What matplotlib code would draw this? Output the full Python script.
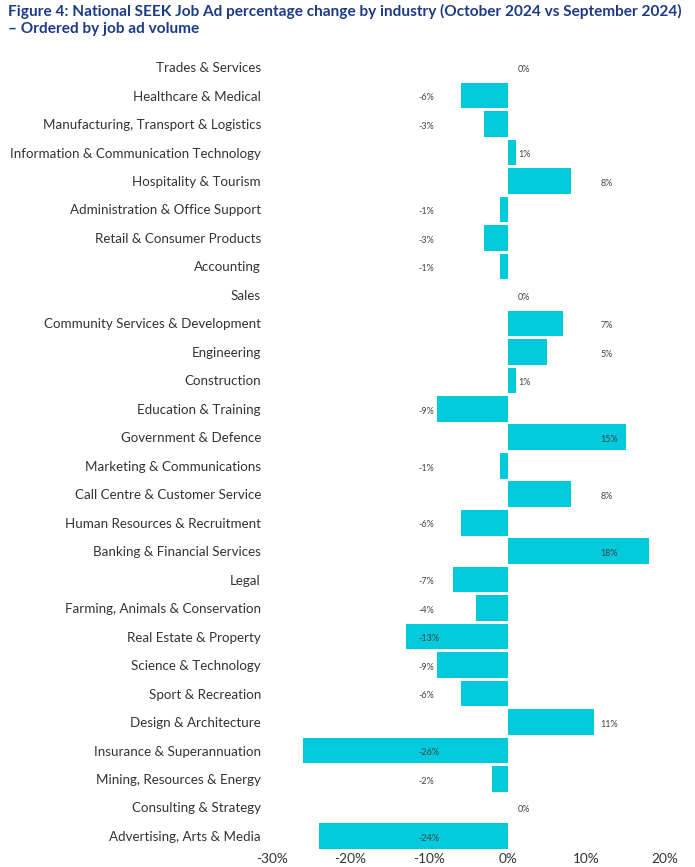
import matplotlib.pyplot as plt
from matplotlib.ticker import FuncFormatter

plt.rcParams['font.family'] = ['Lato', 'DejaVu Sans']

industries = [
    "Trades & Services", "Healthcare & Medical", "Manufacturing, Transport & Logistics",
    "Information & Communication Technology", "Hospitality & Tourism",
    "Administration & Office Support", "Retail & Consumer Products", "Accounting", "Sales",
    "Community Services & Development", "Engineering", "Construction",
    "Education & Training", "Government & Defence", "Marketing & Communications",
    "Call Centre & Customer Service", "Human Resources & Recruitment",
    "Banking & Financial Services", "Legal", "Farming, Animals & Conservation",
    "Real Estate & Property", "Science & Technology", "Sport & Recreation",
    "Design & Architecture", "Insurance & Superannuation",
    "Mining, Resources & Energy", "Consulting & Strategy", "Advertising, Arts & Media",
]
pct_change = [0, -6, -3, 1, 8, -1, -3, -1, 0, 7, 5, 1, -9, 15, -1, 8, -6, 18,
              -7, -4, -13, -9, -6, 11, -26, -2, 0, -24]
x_ticks = [-30, -20, -10, 0, 10, 20]

bar_color = "#00cadc"
title_color = "#1c3a87"

fig = plt.figure(figsize=(6.95, 8.67), dpi=100)
ax = fig.add_axes([0.3914, 0.0194, 0.5654, 0.9196])

y = list(range(len(industries)))
ax.barh(y, pct_change, height=0.9, color=bar_color)

# value labels: fixed columns like the original
for yi, v in zip(y, pct_change):
    if v < 0:
        xpos = -11.4
    elif v <= 1:
        xpos = 1.3
    else:
        xpos = 11.8
    ax.text(xpos, yi + 0.08, f"{v}%", va="center", ha="left", fontsize=6.5, color="#444444")

ax.set_xlim(-30, 20)
ax.set_ylim(len(industries) - 0.5, -0.5)
ax.set_yticks(y)
ax.set_yticklabels(industries, fontsize=9.6, color="#333333")
ax.set_xticks(x_ticks)
ax.xaxis.set_major_formatter(FuncFormatter(lambda v, p: f"{v:.0f}%"))
ax.tick_params(axis="x", length=0, pad=2, labelsize=9.8, labelcolor="#333333")
ax.tick_params(axis="y", length=0, pad=8)
for s in ax.spines.values():
    s.set_visible(False)

fig.text(0.012, 0.977, "Figure 4: National SEEK Job Ad percentage change by industry (October 2024 vs September 2024)\n– Ordered by job ad volume",
         fontsize=11.1, fontweight="bold", color=title_color, va="center", ha="left", linespacing=1.2)

fig.savefig("out.png", dpi=100)
